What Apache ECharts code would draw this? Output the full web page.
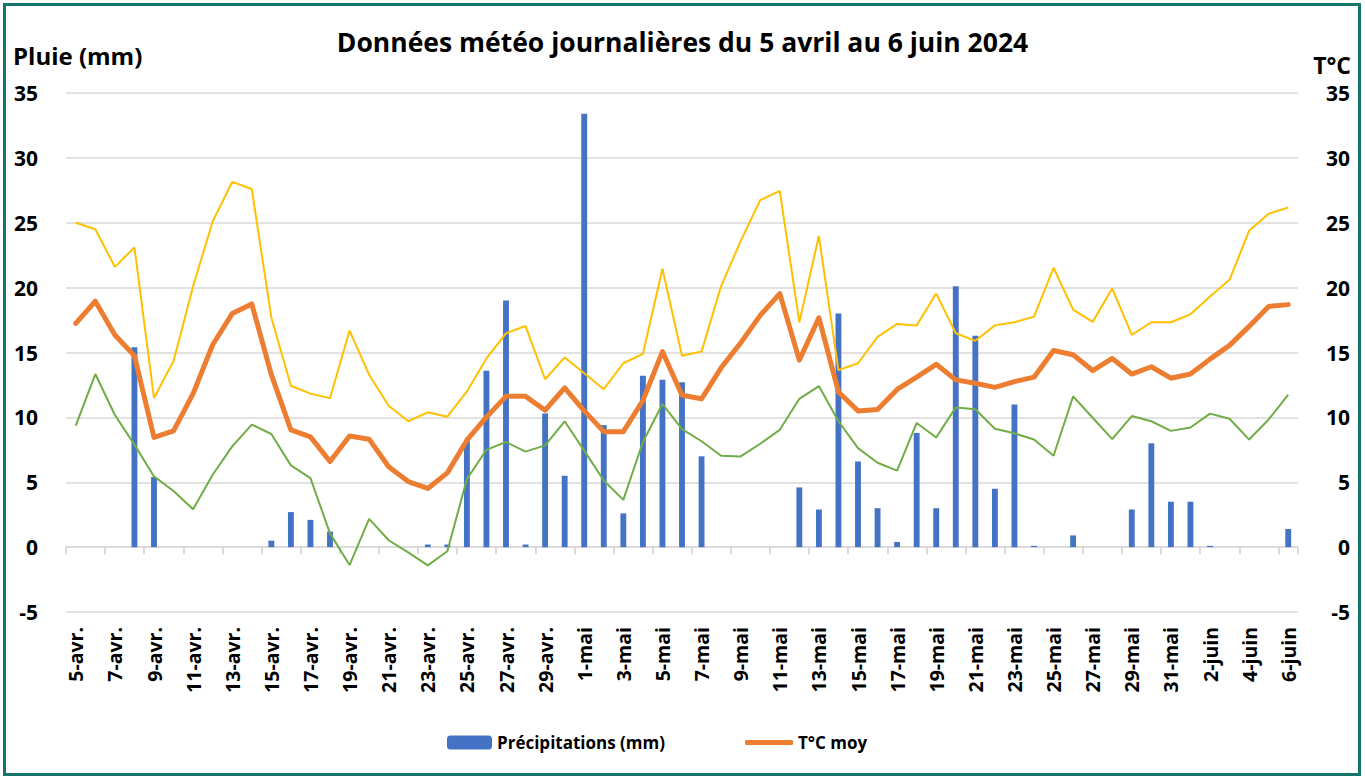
<!DOCTYPE html>
<html>
<head>
<meta charset="utf-8">
<script src="https://cdn.jsdelivr.net/npm/echarts@6/dist/echarts.min.js"></script>
<style>
html,body{margin:0;padding:0;background:#fff;}
#chart{width:1365px;height:778px;}
</style>
</head>
<body>
<div id="chart"></div>
<script>
// ---- Data ----
const categories = [
  '5-avr.','6-avr.','7-avr.','8-avr.','9-avr.','10-avr.','11-avr.','12-avr.','13-avr.','14-avr.',
  '15-avr.','16-avr.','17-avr.','18-avr.','19-avr.','20-avr.','21-avr.','22-avr.','23-avr.','24-avr.',
  '25-avr.','26-avr.','27-avr.','28-avr.','29-avr.','30-avr.',
  '1-mai','2-mai','3-mai','4-mai','5-mai','6-mai','7-mai','8-mai','9-mai','10-mai',
  '11-mai','12-mai','13-mai','14-mai','15-mai','16-mai','17-mai','18-mai','19-mai','20-mai',
  '21-mai','22-mai','23-mai','24-mai','25-mai','26-mai','27-mai','28-mai','29-mai','30-mai','31-mai',
  '1-juin','2-juin','3-juin','4-juin','5-juin','6-juin'
];
const precipitations = [
  0, 0, 0, 15.4, 5.4, 0, 0, 0, 0, 0,
  0.5, 2.7, 2.1, 1.2, 0, 0, 0, 0, 0.2, 0.2,
  8.2, 13.6, 19.0, 0.2, 10.3, 5.5, 33.4, 9.4, 2.6, 13.2,
  12.9, 12.7, 7.0, 0, 0, 0, 0, 4.6, 2.9, 18.0,
  6.6, 3.0, 0.4, 8.8, 3.0, 20.1, 16.3, 4.5, 11.0, 0.1,
  0, 0.9, 0, 0, 2.9, 8.0, 3.5, 3.5, 0.1, 0,
  0, 0, 1.4
];
const tMoy = [
  17.25, 18.95, 16.35, 14.75, 8.45, 8.96, 11.83, 15.6, 18.0, 18.74,
  13.3, 9.04, 8.5, 6.6, 8.56, 8.32, 6.19, 5.05, 4.52, 5.72,
  8.24, 10.02, 11.62, 11.62, 10.55, 12.28, 10.5, 8.9, 8.9, 11.3,
  15.07, 11.7, 11.43, 13.82, 15.74, 17.86, 19.54, 14.41, 17.68, 11.96,
  10.5, 10.6, 12.15, 13.1, 14.09, 12.89, 12.63, 12.31, 12.76, 13.1,
  15.15, 14.83, 13.61, 14.54, 13.34, 13.9, 13.02, 13.34, 14.49, 15.55,
  17.01, 18.55, 18.69
];
const tMax = [
  25.0, 24.5, 21.6, 23.1, 11.5, 14.35, 20.1, 25.1, 28.15, 27.6,
  17.7, 12.44, 11.83, 11.48, 16.69, 13.29, 10.9, 9.7, 10.39, 10.05,
  12.0, 14.54, 16.48, 17.04, 12.94, 14.62, 13.4, 12.17, 14.17, 14.89,
  21.45, 14.75, 15.07, 20.12, 23.58, 26.74, 27.46, 17.33, 23.98, 13.64,
  14.17, 16.2, 17.2, 17.09, 19.54, 16.48, 15.9, 17.09, 17.33, 17.76,
  21.53, 18.3, 17.36, 19.94, 16.35, 17.33, 17.33, 17.94, 19.32, 20.6,
  24.38, 25.7, 26.18
];
const tMin = [
  9.36, 13.34, 10.18, 7.9, 5.45, 4.33, 2.92, 5.58, 7.76, 9.44,
  8.72, 6.3, 5.32, 1.06, -1.38, 2.18, 0.53, -0.4, -1.41, -0.32,
  5.24, 7.5, 8.1, 7.36, 7.84, 9.7, 7.44, 5.13, 3.64, 8.1,
  11.03, 9.09, 8.16, 7.04, 6.99, 7.97, 9.04, 11.43, 12.41, 9.7,
  7.63, 6.5, 5.9, 9.57, 8.45, 10.77, 10.63, 9.12, 8.77, 8.29,
  7.04, 11.62, 9.97, 8.32, 10.1, 9.7, 8.96, 9.22, 10.29, 9.89,
  8.29, 9.84, 11.75
];
const titleText = 'Données météo journalières du 5 avril au 6 juin 2024';
const leftAxisName = 'Pluie (mm)';
const rightAxisName = 'T°C';
const seriesNames = ['Précipitations (mm)', 'T°C moy', 'T°C max', 'T°C min'];

// ---- Chart ----
const FONT = '"Open Sans"';
const chart = echarts.init(document.getElementById('chart'), null, {renderer: 'svg'});
const option = {
  animation: false,
  backgroundColor: '#ffffff',
  textStyle: {fontFamily: FONT},
  title: {
    text: titleText,
    left: 'center',
    top: 23,
    textStyle: {fontFamily: FONT, fontWeight: 'bold', fontSize: 26.5, color: '#000'}
  },
  graphic: [
    {type: 'rect', shape: {x: 4.5, y: 4.5, width: 1355, height: 770},
     style: {fill: 'none', stroke: '#17766c', lineWidth: 3}, silent: true, z: 100},
    {type: 'text', left: 13, top: 43,
     style: {text: leftAxisName, font: 'bold 24px ' + FONT, fill: '#000'}},
    {type: 'text', right: 14, top: 53,
     style: {text: rightAxisName, font: 'bold 23px ' + FONT, fill: '#000', textAlign: 'right'}}
  ],
  legend: [
    {data: [seriesNames[0]], left: 447, top: 734, padding: 0, itemWidth: 45, itemHeight: 14,
     textStyle: {fontFamily: FONT, fontWeight: 'bold', fontSize: 17, color: '#000'}},
    {data: [seriesNames[1]], left: 745, top: 734, padding: 0, itemWidth: 48, itemHeight: 5, icon: 'roundRect',
     textStyle: {fontFamily: FONT, fontWeight: 'bold', fontSize: 17, color: '#000'}}
  ],
  grid: {left: 66, right: 67, top: 93, bottom: 166, containLabel: false},
  xAxis: [
    {
      type: 'category', data: categories, position: 'bottom', boundaryGap: true,
      axisLine: {show: true, onZero: true, lineStyle: {color: '#d9d9d9', width: 1.5}},
      axisTick: {show: true, interval: 1, length: 7, lineStyle: {color: '#d0d0d0', width: 1.5}},
      axisLabel: {show: false},
      splitLine: {show: false}
    },
    {
      type: 'category', data: categories, position: 'bottom', boundaryGap: true,
      axisLine: {show: false, onZero: false},
      axisTick: {show: false},
      axisLabel: {show: true, interval: 1, rotate: 90, margin: 15,
        fontFamily: FONT, fontWeight: 'bold', fontSize: 19.5, color: '#000'},
      splitLine: {show: false}
    }
  ],
  yAxis: [
    {
      type: 'value', min: -5, max: 35, interval: 5, position: 'left',
      axisLine: {show: false}, axisTick: {show: false},
      axisLabel: {margin: 28, fontFamily: FONT, fontWeight: 'bold', fontSize: 21, color: '#000'},
      splitLine: {show: true, lineStyle: {color: '#d9d9d9', width: 1.5}}
    },
    {
      type: 'value', min: -5, max: 35, interval: 5, position: 'right',
      axisLine: {show: false}, axisTick: {show: false},
      axisLabel: {margin: 52, align: 'right', fontFamily: FONT, fontWeight: 'bold', fontSize: 21, color: '#000'},
      splitLine: {show: false}
    }
  ],
  series: [
    {name: seriesNames[0], type: 'bar', data: precipitations, xAxisIndex: 0, yAxisIndex: 0,
     barWidth: '30%', itemStyle: {color: '#4472c4'}, z: 2},
    {name: seriesNames[3], type: 'line', data: tMin, xAxisIndex: 0, yAxisIndex: 1,
     symbol: 'none', lineStyle: {color: '#70ad47', width: 2}, itemStyle: {color: '#70ad47'}, z: 3},
    {name: seriesNames[2], type: 'line', data: tMax, xAxisIndex: 0, yAxisIndex: 1,
     symbol: 'none', lineStyle: {color: '#ffc000', width: 2}, itemStyle: {color: '#ffc000'}, z: 4},
    {name: seriesNames[1], type: 'line', data: tMoy, xAxisIndex: 0, yAxisIndex: 1,
     symbol: 'none', lineStyle: {color: '#ed7d31', width: 5, cap: 'round', join: 'round'},
     itemStyle: {color: '#ed7d31'}, z: 5}
  ]
};
chart.setOption(option);
</script>
</body>
</html>
